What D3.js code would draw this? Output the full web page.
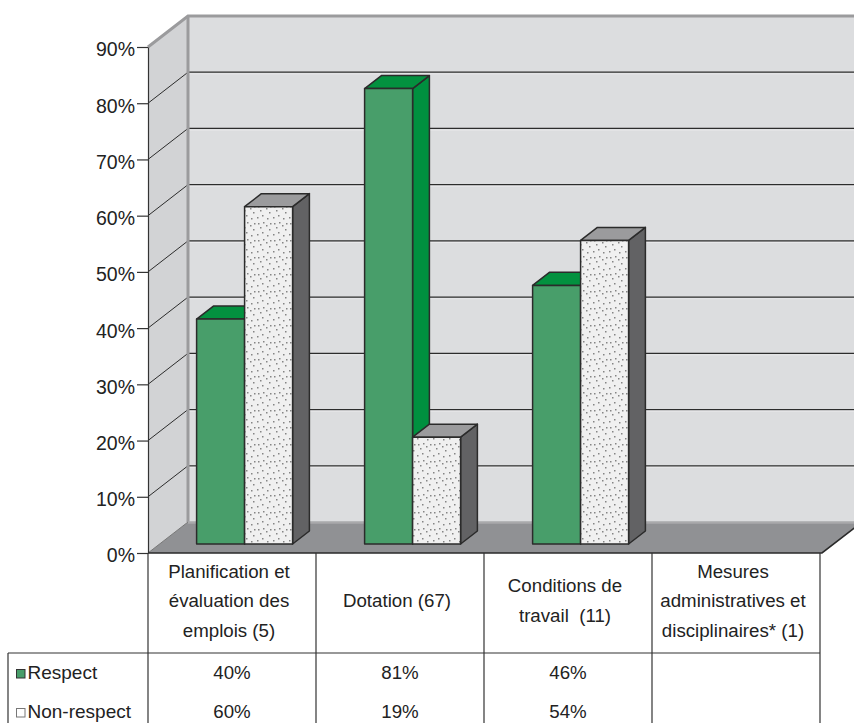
<!DOCTYPE html>
<html>
<head>
<meta charset="utf-8">
<script src="https://cdn.jsdelivr.net/npm/d3@7"></script>
<style>
  html, body { margin: 0; padding: 0; background: #fff; }
  svg { display: block; font-family: "Liberation Sans", Arial, Helvetica, sans-serif; }
  svg text { white-space: pre; }
</style>
</head>
<body>
<svg id="chart" width="854" height="723"></svg>
<script>
// ---- Data ----
const categories = ["Planification", "Dotation", "Conditions", "Mesures"];
const categoryLines = [
  ["Planification et", "évaluation des", "emplois (5)"],
  ["Dotation (67)"],
  ["Conditions de", "travail  (11)"],
  ["Mesures", "administratives et", "disciplinaires* (1)"]
];
const seriesNames = ["Respect", "Non-respect"];
const respectValues = [40, 81, 46, null];
const nonRespectValues = [60, 19, 54, null];
const yTickValues = [0, 10, 20, 30, 40, 50, 60, 70, 80, 90];
const yTickLabels = ["0%", "10%", "20%", "30%", "40%", "50%", "60%", "70%", "80%", "90%"];

const seriesValues = [respectValues, nonRespectValues];

// ---- Layout ----
const svg = d3.select("#chart");
const plotLeft = 148, plotRight = 820;
const depthX = 40, depthY = -31;           // full depth of the 3D box
const barFrontFrac = 0.29, barDepthFrac = 0.42;

const y = d3.scaleLinear().domain([0, 90]).range([553, 47]);
const x = d3.scaleBand().domain(categories).range([plotLeft, plotRight]);
const bw = x.bandwidth();
const barW = bw * 0.2857;
const groupOff = (bw - 2 * barW) / 2 + 1;

const style = {
  back: "#dcdddf", side: "#d2d3d5", floor: "#909194", frame: "#9b9b9d",
  grid: "#2c2c2c", edge: "#2b2b2b",
  respFront: "#489e6a", respTop: "#03913f", respSide: "#00903f",
  nonFront: "#f0f0f0", nonTop: "#9b9b9d", nonSide: "#626264"
};

// dotted fill for the Non-respect bars
const defs = svg.append("defs");
const pat = defs.append("pattern").attr("id", "dots")
  .attr("patternUnits", "userSpaceOnUse").attr("width", 16).attr("height", 17);
pat.append("rect").attr("width", 16).attr("height", 17).attr("fill", style.nonFront);
[[2,2],[7,1],[4,6],[10,4],[13,8],[6,11],[1,13],[11,14],[14,2]]
  .forEach(([px, py]) => pat.append("rect").attr("x", px).attr("y", py)
    .attr("width", 1.5).attr("height", 1.5).attr("fill", "#858585"));

const g = svg.append("g");
const y0 = y(0), yMax = y(90);

// back wall
g.append("rect").attr("x", plotLeft + depthX).attr("y", yMax + depthY)
  .attr("width", 900).attr("height", y0 - yMax).attr("fill", style.back);

// side wall
g.append("polygon")
  .attr("points", [[plotLeft, y0], [plotLeft + depthX, y0 + depthY],
                   [plotLeft + depthX, yMax + depthY], [plotLeft, yMax]].join(" "))
  .attr("fill", style.side);

// gridlines on back wall and side wall
yTickValues.filter(v => v > 0 && v < 90).forEach(v => {
  g.append("line").attr("x1", plotLeft + depthX).attr("x2", 900)
    .attr("y1", y(v) + depthY).attr("y2", y(v) + depthY)
    .attr("stroke", style.grid).attr("stroke-width", 1.2);
  g.append("line").attr("x1", plotLeft + depthX).attr("x2", 900)
    .attr("y1", y(v) + depthY + 1.6).attr("y2", y(v) + depthY + 1.6)
    .attr("stroke", "#e8e8ea").attr("stroke-width", 1);
  g.append("line").attr("x1", plotLeft).attr("y1", y(v))
    .attr("x2", plotLeft + depthX).attr("y2", y(v) + depthY)
    .attr("stroke", style.grid).attr("stroke-width", 1);
});

// wall frame
g.append("polyline")
  .attr("points", [[plotLeft, yMax], [plotLeft + depthX, yMax + depthY], [900, yMax + depthY]].join(" "))
  .attr("fill", "none").attr("stroke", style.frame).attr("stroke-width", 3);
g.append("line").attr("x1", plotLeft + depthX).attr("x2", plotLeft + depthX)
  .attr("y1", yMax + depthY).attr("y2", y0 + depthY)
  .attr("stroke", style.frame).attr("stroke-width", 3);

// floor
g.append("polygon")
  .attr("points", [[plotLeft, y0], [plotRight + 2, y0], [plotRight + 2 + depthX, y0 + depthY],
                   [plotLeft + depthX, y0 + depthY]].join(" "))
  .attr("fill", style.floor);
g.append("line").attr("x1", plotLeft + depthX).attr("x2", 900)
  .attr("y1", y0 + depthY + 0.5).attr("y2", y0 + depthY + 0.5)
  .attr("stroke", "#a9a9ab").attr("stroke-width", 2.5);
g.append("line").attr("x1", plotLeft).attr("y1", y0)
  .attr("x2", plotLeft + depthX).attr("y2", y0 + depthY)
  .attr("stroke", "#777").attr("stroke-width", 1);
g.append("polyline")
  .attr("points", [[plotLeft, y0], [plotRight + 2, y0], [plotRight + 2 + depthX, y0 + depthY]].join(" "))
  .attr("fill", "none").attr("stroke", "#2a2a2a").attr("stroke-width", 1.6);

// bars
const bdx = depthX * barDepthFrac, bdy = depthY * barDepthFrac;
const fdx = depthX * barFrontFrac, fdy = depthY * barFrontFrac;
const colours = [
  { front: style.respFront, top: style.respTop, side: style.respSide },
  { front: "url(#dots)", top: style.nonTop, side: style.nonSide }
];
categories.forEach((cat, i) => {
  seriesValues.forEach((vals, s) => {
    const v = vals[i];
    if (v == null) return;
    const xa = x(cat) + fdx + groupOff + s * barW, xb = xa + barW;
    const yb = y(0) + fdy, yt = y(v) + fdy;
    const c = colours[s];
    const bar = g.append("g").attr("stroke", style.edge).attr("stroke-width", 1.5)
      .attr("stroke-linejoin", "round");
    bar.append("polygon")
      .attr("points", [[xb, yt], [xb + bdx, yt + bdy], [xb + bdx, yb + bdy], [xb, yb]].join(" "))
      .attr("fill", c.side);
    bar.append("polygon")
      .attr("points", [[xa, yt], [xb, yt], [xb + bdx, yt + bdy], [xa + bdx, yt + bdy]].join(" "))
      .attr("fill", c.top);
    bar.append("rect").attr("x", xa).attr("y", yt).attr("width", barW).attr("height", yb - yt)
      .attr("fill", c.front);
  });
});

// y axis
const axis = d3.axisLeft(y).tickValues(yTickValues)
  .tickFormat((d, i) => yTickLabels[i]).tickSize(11).tickSizeOuter(0).tickPadding(2);
const ax = svg.append("g").attr("transform", `translate(${plotLeft},0)`).call(axis);
ax.select(".domain").attr("stroke", "#333").attr("stroke-width", 1.2);
ax.selectAll(".tick line").attr("stroke", "#333").attr("stroke-width", 1.2);
ax.selectAll(".tick text").attr("font-size", "19.5px").attr("fill", "#222")
  .attr("font-family", "'Liberation Sans', Arial, sans-serif").attr("dy", "0.46em");

// ---- Data table ----
const tbl = svg.append("g").attr("stroke", "#333").attr("stroke-width", 1.2);
const tableTop = 553, rowSplit = 653, tableBottom = 723, tableLeft = 8;
categories.concat([null]).forEach((cat) => {
  const xx = cat == null ? plotRight : x(cat);
  tbl.append("line").attr("x1", xx).attr("x2", xx).attr("y1", tableTop).attr("y2", tableBottom);
});
tbl.append("line").attr("x1", tableLeft).attr("x2", plotRight).attr("y1", rowSplit).attr("y2", rowSplit);
tbl.append("line").attr("x1", tableLeft).attr("x2", tableLeft).attr("y1", rowSplit).attr("y2", tableBottom);

const txt = svg.append("g").attr("fill", "#222").attr("font-size", "18.7px");
categories.forEach((cat, i) => {
  const lines = categoryLines[i];
  const n = lines.length;
  lines.forEach((ln, k) => {
    txt.append("text").attr("x", x(cat) + bw / 2 - 3)
      .attr("y", 607 + (k - (n - 1) / 2) * 29.5)
      .attr("text-anchor", "middle").text(ln);
  });
});

const rowBaselines = [679, 718];
const legendFill = [style.respFront, "#ffffff"];
const legendStroke = ["#333", "#777"];
seriesNames.forEach((name, s) => {
  const by = rowBaselines[s];
  svg.append("rect").attr("x", 16.5).attr("y", by - 9.5).attr("width", 8.5).attr("height", 8.5)
    .attr("fill", legendFill[s]).attr("stroke", legendStroke[s]).attr("stroke-width", 1);
  txt.append("text").attr("x", 27.5).attr("y", by).attr("font-size", "19px").text(name);
  categories.forEach((cat, i) => {
    const v = seriesValues[s][i];
    if (v == null) return;
    txt.append("text").attr("x", x(cat) + bw / 2).attr("y", by)
      .attr("text-anchor", "middle").text(v + "%");
  });
});
</script>
</body>
</html>
